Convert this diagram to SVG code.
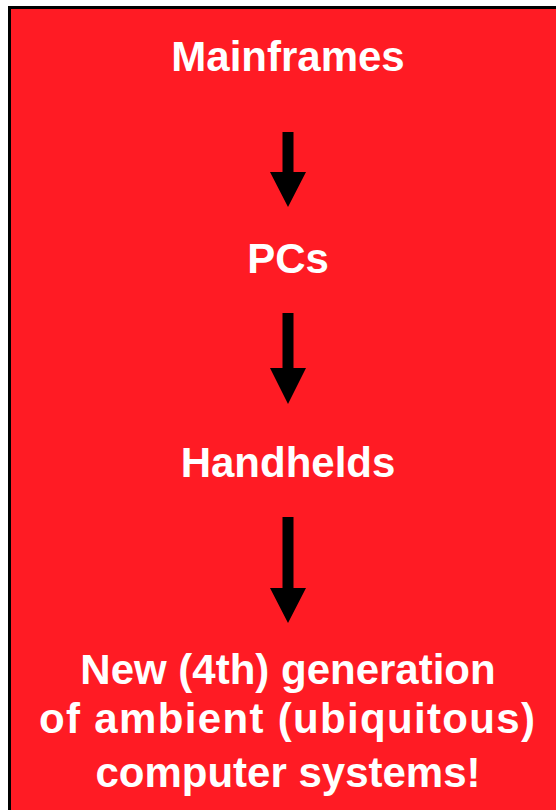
<svg xmlns="http://www.w3.org/2000/svg" width="556" height="810" viewBox="0 0 556 810">
<style>
.lbl{font-family:"Liberation Sans",Arial,sans-serif;font-weight:bold;font-size:42px;fill:#ffffff;text-anchor:middle}
.arr{fill:#000000}
</style>
<rect x="0" y="0" width="556" height="810" fill="#ffffff"/>
<rect id="panel" x="9.5" y="7.5" width="560" height="820" fill="#FF1B24" stroke="#000000" stroke-width="3"/>
<g id="mainframes"><text class="lbl" x="288" y="71">Mainframes</text></g>
<g id="pcs"><text class="lbl" x="288" y="273">PCs</text></g>
<g id="handhelds"><text class="lbl" x="288" y="477">Handhelds</text></g>
<g id="ambient">
<text class="lbl" x="288" y="684">New (4th) generation</text>
<text class="lbl" x="287" y="733" textLength="496" lengthAdjust="spacing">of ambient (ubiquitous)</text>
<text class="lbl" x="288" y="787">computer systems!</text>
</g>
<g id="connectors">
<polygon class="arr" points="282.5,132 293.5,132 293.5,172 306,172 288,207 270,172 282.5,172"/>
<polygon class="arr" points="282.5,313 293.5,313 293.5,368 306,368 288,404 270,368 282.5,368"/>
<polygon class="arr" points="282.5,517 293.5,517 293.5,588 306,588 288,623 270,588 282.5,588"/>
</g>
</svg>
